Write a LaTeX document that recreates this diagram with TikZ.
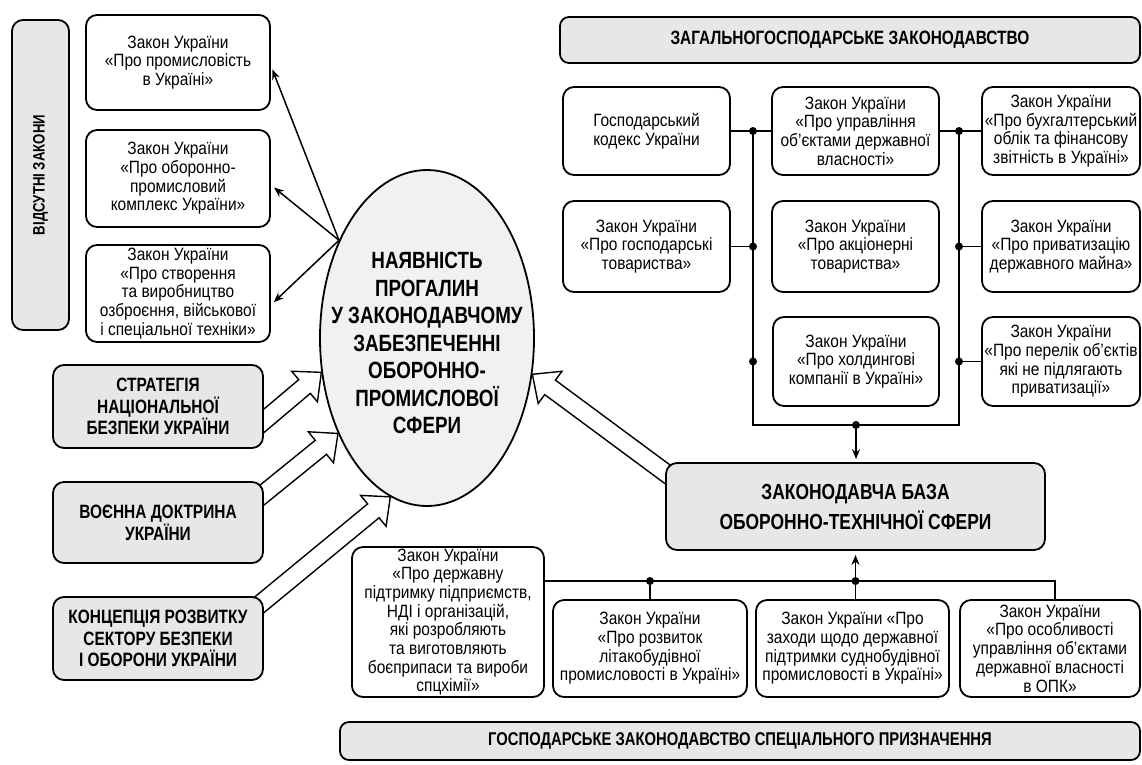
\documentclass[tikz,border=0pt]{standalone}
\usepackage{fontspec}
\setmainfont{Liberation Sans}[FakeStretch=0.87, BoldFeatures={FakeStretch=0.8}]
\usepackage{tikz}
\usetikzlibrary{backgrounds, positioning, shapes, arrows.meta, calc}
\definecolor{boxgray}{RGB}{230,231,232}
\definecolor{ovalgray}{RGB}{240,241,242}

% wide hollow arrow: #1 tail, #2 tip
\newcommand{\hollowarrow}[2]{%
  \coordinate (ha-b) at ($(#2)!22pt!(#1)$);
  \draw[hollow] ($(#1)!9pt!90:(#2)$) -- ($(ha-b)!9pt!90:(#2)$) -- ($(ha-b)!20pt!90:(#2)$)
    -- (#2) -- ($(ha-b)!20pt!-90:(#2)$) -- ($(ha-b)!9pt!-90:(#2)$) -- ($(#1)!9pt!-90:(#2)$);
}

\begin{document}
\begin{tikzpicture}[
    x=1pt, y=-1pt,
    law/.style={draw, rectangle, rounded corners=11pt, fill=white, line width=1.8pt, align=center, inner sep=1pt, font=\fontsize{17.8}{18.7}\selectfont},
    grey/.style={law, fill=boxgray, font=\fontsize{19.3}{21.7}\selectfont\bfseries},
    banner/.style={law, fill=boxgray, rounded corners=9pt},
    dot/.style={circle, fill=black, inner sep=0pt, minimum size=8pt},
    arr/.style={line width=1.5pt, -{Stealth[length=10pt, width=8pt]}},
    bus/.style={line width=1.8pt},
    hollow/.style={line width=1.4pt, line join=miter, fill=white}
]
\useasboundingbox (0,0) rectangle (1142,764);

% відсутні закони
\node[grey, rotate=90, minimum width=310pt, minimum height=57pt, font=\fontsize{16.5}{20}\selectfont\bfseries] (absent) at (40.5,175) {ВІДСУТНІ ЗАКОНИ};
\node[law, minimum width=184pt, minimum height=95pt] (lawind) at (178,62.5) {Закон України\\«Про промисловість\\в Україні»};
\node[law, minimum width=184pt, minimum height=97pt] (lawopk) at (178,178.5) {Закон України\\«Про оборонно-\\промисловий\\комплекс України»};
\node[law, minimum width=184pt, minimum height=97pt] (lawarm) at (178,293.5) {Закон України\\«Про створення\\та виробництво\\озброєння, військової\\і спеціальної техніки»};

% документи стратегічного рівня
\node[grey, minimum width=210pt, minimum height=83pt] (strat) at (158,406.5) {СТРАТЕГІЯ\\НАЦІОНАЛЬНОЇ\\БЕЗПЕКИ УКРАЇНИ};
\node[grey, minimum width=210pt, minimum height=81pt] (doctr) at (158,522.5) {ВОЄННА ДОКТРИНА\\УКРАЇНИ};
\node[grey, minimum width=210pt, minimum height=83pt] (conc) at (158,638.5) {КОНЦЕПЦІЯ РОЗВИТКУ\\СЕКТОРУ БЕЗПЕКИ\\І ОБОРОНИ УКРАЇНИ};

% центральна проблема
\node[draw, ellipse, fill=ovalgray, line width=1.8pt, minimum width=214pt, minimum height=336pt, inner sep=0pt,
    label={[font=\fontsize{23.5}{27.5}\selectfont\bfseries, align=center, yshift=-5pt]center:{НАЯВНІСТЬ\\ПРОГАЛИН\\У ЗАКОНОДАВЧОМУ\\ЗАБЕЗПЕЧЕННІ\\ОБОРОННО-\\ПРОМИСЛОВОЇ\\СФЕРИ}}] (main) at (427,338) {};

% загальногосподарське законодавство
\node[banner, minimum width=580pt, minimum height=46pt, font=\fontsize{19.3}{22}\selectfont\bfseries] (gentop) at (850,40) {ЗАГАЛЬНОГОСПОДАРСЬКЕ ЗАКОНОДАВСТВО};
\node[law, minimum width=167pt, minimum height=88pt] (gkc) at (646.5,131) {Господарський\\кодекс України};
\node[law, minimum width=167pt, minimum height=88pt] (lawupr) at (855.5,131) {Закон України\\«Про управління\\об’єктами державної\\власності»};
\node[law, minimum width=158pt, minimum height=88pt] (lawbuh) at (1061,131) {Закон України\\«Про бухгалтерський\\облік та фінансову\\звітність в Україні»};
\node[law, minimum width=167pt, minimum height=91pt] (lawgt) at (646.5,246.5) {Закон України\\«Про господарські\\товариства»};
\node[law, minimum width=167pt, minimum height=91pt] (lawakc) at (855.5,246.5) {Закон України\\«Про акціонерні\\товариства»};
\node[law, minimum width=158pt, minimum height=91pt] (lawpriv) at (1061,246.5) {Закон України\\«Про приватизацію\\державного майна»};
\node[law, minimum width=166pt, minimum height=89pt] (lawhold) at (856,361.5) {Закон України\\«Про холдингові\\компанії в Україні»};
\node[law, minimum width=158pt, minimum height=89pt] (lawperel) at (1061,361.5) {Закон України\\«Про перелік об’єктів\\які не підлягають\\приватизації»};

% законодавча база
\node[grey, minimum width=379pt, minimum height=87pt, font=\fontsize{21.8}{30}\selectfont\bfseries] (zak) at (855.5,506.5) {ЗАКОНОДАВЧА БАЗА\\ОБОРОННО-ТЕХНІЧНОЇ СФЕРИ};

% спеціальне законодавство
\node[law, minimum width=192pt, minimum height=150pt] (lawsupp) at (448,622) {Закон України\\«Про державну\\підтримку підприємств,\\НДІ і організацій,\\які розробляють\\та виготовляють\\боєприпаси та вироби\\спцхімії»};
\node[law, minimum width=194pt, minimum height=97pt] (lawair) at (650,648.5) {Закон України\\«Про розвиток\\літакобудівної\\промисловості в Україні»};
\node[law, minimum width=193pt, minimum height=97pt] (lawship) at (852.5,648.5) {Закон України «Про\\заходи щодо державної\\підтримки суднобудівної\\промисловості в Україні»};
\node[law, minimum width=180pt, minimum height=97pt] (lawmgmt) at (1050,648.5) {Закон України\\«Про особливості\\управління об’єктами\\державної власності\\в ОПК»};
\node[banner, minimum width=800pt, minimum height=38pt, font=\fontsize{18.5}{21}\selectfont\bfseries] (genbot) at (740,741) {ГОСПОДАРСЬКЕ ЗАКОНОДАВСТВО СПЕЦІАЛЬНОГО ПРИЗНАЧЕННЯ};

% широкі стрілки до еліпса
\begin{scope}[on background layer]
  \coordinate (t1) at ($(strat.east)+(-15,27)$);
  \coordinate (t2) at ($(doctr.east)+(-16,-16)$);
  \coordinate (t3) at ($(conc.east)+(-20,-21)$);
  \coordinate (t4) at ($(zak.north west)+(17,23)$);
  \hollowarrow{t1}{main.198}
  \hollowarrow{t2}{main.227}
  \hollowarrow{t3}{main.257}
  \hollowarrow{t4}{main.341}
\end{scope}

% стрілки до відсутніх законів
\draw[arr, shorten >=4pt] (main.132) -- (lawind.-2);
\draw[arr, shorten >=4pt] (main.132) -- (lawopk.-4);
\draw[arr, shorten >=4pt] (main.132) -- (lawarm.-7);

% шини загальногосподарського законодавства
\coordinate (busL) at (753,131);
\coordinate (busR) at (959,131);
\coordinate (busB) at (856,425);
\draw[bus] (gkc) -- (lawupr);
\draw[bus] (lawupr) -- (lawbuh);
\draw[bus] (busL) -- (busL |- busB) -- (busR |- busB) -- (busR);
\draw[bus] (lawgt.east) -- (lawgt.east -| busL);
\draw[bus] (lawpriv.west -| busR) -- (lawpriv.west);
\draw[bus] (lawperel.west -| busR) -- (lawperel.west);
\node[dot] (j1) at (busL) {};
\node[dot] (j2) at (busR) {};
\node[dot] (j3) at (lawgt.east -| busL) {};
\node[dot] (j4) at (lawpriv.west -| busR) {};
\node[dot] (j5) at (lawhold.west -| busL) {};
\node[dot] (j6) at (lawperel.west -| busR) {};
\node[dot] (j7) at (busB) {};
\draw[arr, shorten >=3pt] (j7) -- (j7 |- zak.north);

% шина спеціального законодавства
\coordinate (busS) at (1055,581);
\draw[bus] (lawsupp.east |- busS) -- (busS) -- (busS |- lawmgmt.north);
\node[dot] (j8) at (lawair.north |- busS) {};
\node[dot] (j9) at (zak.south |- busS) {};
\draw[bus] (j8) -- (lawair.north);
\draw[bus] (j9) -- (j9 |- lawship.north);
\draw[arr, shorten >=4pt] (j9) -- (zak.south);

\end{tikzpicture}
\end{document}
